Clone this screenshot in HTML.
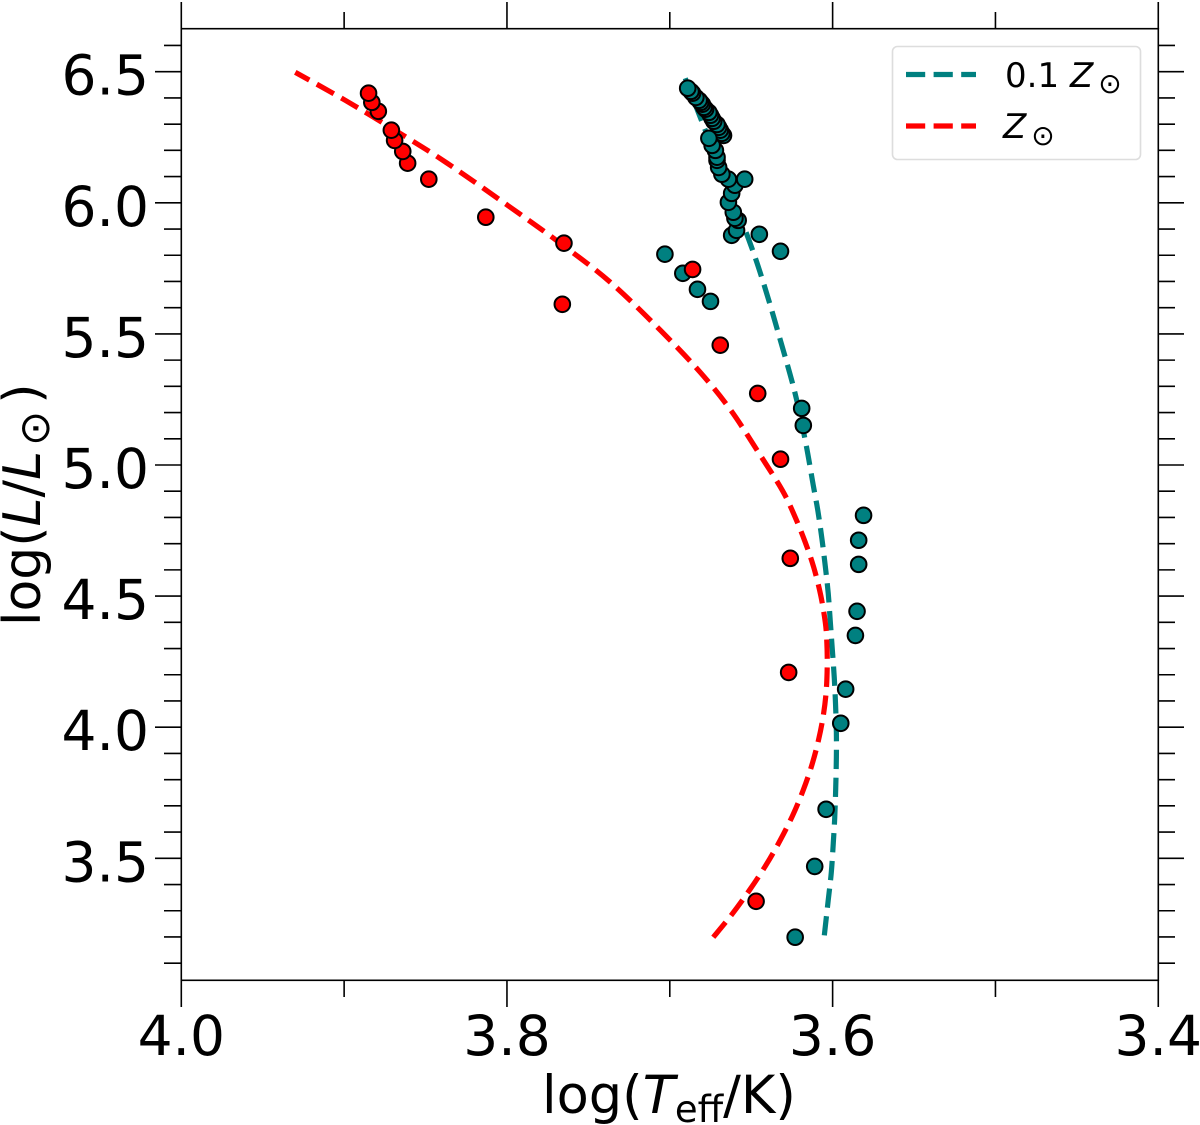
<!DOCTYPE html>
<html lang="en">
<head>
<meta charset="utf-8">
<title>HR diagram</title>
<style>
html,body{margin:0;padding:0;background:#fff;width:1200px;height:1125px;overflow:hidden}
svg{display:block}
text{font-family:"DejaVu Sans","Liberation Sans",sans-serif;fill:#000}
.it{font-style:italic}
</style>
</head>
<body>
<svg id="chart" width="1200" height="1125" viewBox="0 0 1200 1125" xmlns="http://www.w3.org/2000/svg">
  <rect x="0" y="0" width="1200" height="1125" fill="#fff"/>
  <g id="ticks"></g>
  <g id="tick-labels" font-size="55"></g>
  <g id="lines"></g>
  <g id="points"></g>
  <rect x="181.3" y="28.7" width="977" height="951.6" fill="none" stroke="#000" stroke-width="1.6"/>

  <g>
    <rect x="892.5" y="46.5" width="248" height="113" rx="5" fill="#fff" fill-opacity="0.8" stroke="#ddd" stroke-width="1.6"/>
    <g>
      <line x1="906" y1="74.5" x2="976" y2="74.5" stroke="#008080" stroke-width="5.2" stroke-dasharray="19.2 8.4"/>
      <text x="1005" y="87" font-size="34">0.1</text>
      <text class="it" x="1070" y="87" font-size="34">Z</text>
      <text x="1110" y="93" font-size="28" text-anchor="middle">⊙</text>
    </g>
    <g>
      <line x1="906" y1="126" x2="976" y2="126" stroke="#ff0000" stroke-width="5.2" stroke-dasharray="19.2 8.4"/>
      <text class="it" x="1003" y="138" font-size="34">Z</text>
      <text x="1043" y="145" font-size="28" text-anchor="middle">⊙</text>
    </g>
  </g>

  <text x="542" y="1113" font-size="52.6">log(<tspan class="it">T</tspan><tspan font-size="37" dy="9">eff</tspan><tspan dy="-9">/K)</tspan></text>
  <text transform="translate(40,626) rotate(-90)" font-size="52">log(<tspan class="it">L</tspan>/<tspan class="it">L</tspan><tspan font-size="42" dy="9" dx="5">⊙</tspan><tspan dy="-9" dx="7">)</tspan></text>
</svg>

<script>
// Axis ticks
const xMajorTicks = [4.0, 3.8, 3.6, 3.4];
const xMajorLabels = ["4.0", "3.8", "3.6", "3.4"];
const xMinorTicks = [3.9, 3.7, 3.5];
const yMajorTicks = [6.5, 6.0, 5.5, 5.0, 4.5, 4.0, 3.5];
const yMajorLabels = ["6.5", "6.0", "5.5", "5.0", "4.5", "4.0", "3.5"];
const yMinorTicks = [6.6, 6.4, 6.3, 6.2, 6.1, 5.9, 5.8, 5.7, 5.6, 5.4, 5.3, 5.2, 5.1, 4.9, 4.8, 4.7, 4.6, 4.4, 4.3, 4.2, 4.1, 3.9, 3.8, 3.7, 3.6, 3.4, 3.3, 3.2, 3.1];

// Model track: 0.1 solar metallicity
const tealLineTeff = [3.6051, 3.6027, 3.6008, 3.5996, 3.5987, 3.5981, 3.5977, 3.5977, 3.5982, 3.5990, 3.6002, 3.6014, 3.6027, 3.6045, 3.6066, 3.6091, 3.6119, 3.6168, 3.6232, 3.6321, 3.6420, 3.6518, 3.6665, 3.6813, 3.6905];
const tealLineLum = [3.206, 3.340, 3.447, 3.557, 3.656, 3.767, 3.885, 3.981, 4.087, 4.190, 4.297, 4.400, 4.511, 4.614, 4.720, 4.827, 4.923, 5.094, 5.277, 5.476, 5.685, 5.865, 6.093, 6.326, 6.475];

// Model track: solar metallicity
const redLineTeff = [3.6733, 3.6623, 3.6511, 3.6410, 3.6322, 3.6245, 3.6181, 3.6128, 3.6087, 3.6057, 3.6039, 3.6033, 3.6036, 3.6045, 3.6073, 3.6116, 3.6168, 3.6235, 3.6309, 3.6444, 3.6625, 3.6813, 3.7058, 3.7365, 3.7672, 3.7979, 3.8366, 3.8637, 3.8993, 3.9300];
const redLineLum = [3.199, 3.2826, 3.378, 3.4733, 3.5687, 3.664, 3.7593, 3.8547, 3.95, 4.0454, 4.1407, 4.2437, 4.3314, 4.4001, 4.503, 4.6098, 4.7052, 4.8082, 4.9035, 5.037, 5.2086, 5.3535, 5.514, 5.697, 5.8455, 5.9828, 6.1506, 6.2574, 6.3909, 6.4977];

// Scatter: 0.1 solar metallicity
const tealPointTeff = [3.623, 3.611, 3.604, 3.595, 3.592, 3.586, 3.585, 3.584, 3.584, 3.581, 3.618, 3.619, 3.675, 3.683, 3.692, 3.703, 3.632, 3.645, 3.662, 3.659, 3.658, 3.660, 3.661, 3.664, 3.662, 3.660, 3.654, 3.664, 3.668, 3.670, 3.671, 3.671, 3.672, 3.674, 3.667, 3.668, 3.669, 3.670, 3.671, 3.673, 3.674, 3.675, 3.676, 3.678, 3.679, 3.680, 3.681, 3.682, 3.684, 3.686, 3.687, 3.689, 3.676];
const tealPointLum = [3.199, 3.469, 3.687, 4.015, 4.145, 4.350, 4.442, 4.621, 4.713, 4.808, 5.151, 5.216, 5.624, 5.670, 5.731, 5.804, 5.815, 5.880, 5.876, 5.895, 5.933, 5.941, 5.964, 6.002, 6.036, 6.067, 6.090, 6.090, 6.109, 6.135, 6.162, 6.174, 6.200, 6.219, 6.257, 6.265, 6.277, 6.288, 6.299, 6.311, 6.322, 6.334, 6.345, 6.357, 6.364, 6.376, 6.383, 6.391, 6.402, 6.418, 6.425, 6.437, 6.246];

// Scatter: solar metallicity
const redPointTeff = [3.647, 3.627, 3.626, 3.632, 3.646, 3.669, 3.686, 3.766, 3.765, 3.813, 3.848, 3.861, 3.864, 3.869, 3.871, 3.879, 3.883, 3.885];
const redPointLum = [3.336, 4.209, 4.644, 5.022, 5.273, 5.457, 5.746, 5.613, 5.846, 5.945, 6.090, 6.151, 6.196, 6.238, 6.277, 6.349, 6.383, 6.418];

const NS = 'http://www.w3.org/2000/svg';
function xScale(v) { return 181.3 + (4 - v) * 1628.3; }
function yScale(v) { return 858.3 - (v - 3.5) * 262.2; }

const ticksGroup = document.getElementById('ticks');
const labelsGroup = document.getElementById('tick-labels');
const linesGroup = document.getElementById('lines');
const pointsGroup = document.getElementById('points');

function addTick(name, x1, y1, x2, y2) {
  const t = document.createElementNS(NS, 'line');
  
  
  t.setAttribute('x1', x1);
  t.setAttribute('y1', y1);
  t.setAttribute('x2', x2);
  t.setAttribute('y2', y2);
  t.setAttribute('stroke', '#000');
  t.setAttribute('stroke-width', '1.6');
  ticksGroup.appendChild(t);
}

xMajorTicks.forEach(function (v, i) {
  const x = xScale(v);
  addTick('x-major-tick-bottom', x, 980, x, 1007);
  addTick('x-major-tick-top', x, 29, x, 2);
  const label = document.createElementNS(NS, 'text');
  
  
  label.setAttribute('x', x);
  label.setAttribute('y', 1055);
  label.setAttribute('text-anchor', 'middle');
  label.textContent = xMajorLabels[i];
  labelsGroup.appendChild(label);
});
xMinorTicks.forEach(function (v) {
  const x = xScale(v);
  addTick('x-minor-tick-bottom', x, 980, x, 997);
  addTick('x-minor-tick-top', x, 29, x, 12);
});
yMajorTicks.forEach(function (v, i) {
  const y = yScale(v);
  addTick('y-major-tick-left', 181, y, 155, y);
  addTick('y-major-tick-right', 1158, y, 1184, y);
  const label = document.createElementNS(NS, 'text');
  
  
  label.setAttribute('x', 149);
  label.setAttribute('y', y + 23);
  label.setAttribute('text-anchor', 'end');
  label.textContent = yMajorLabels[i];
  labelsGroup.appendChild(label);
});
yMinorTicks.forEach(function (v) {
  const y = yScale(v);
  addTick('y-minor-tick-left', 181, y, 164, y);
  addTick('y-minor-tick-right', 1158, y, 1175, y);
});

function smoothPath(xs, ys) {
  const px = xs.map(xScale);
  const py = ys.map(yScale);
  let d = 'M' + px[0].toFixed(2) + ' ' + py[0].toFixed(2);
  for (let i = 0; i < px.length - 1; i++) {
    const a = Math.max(i - 1, 0);
    const b = Math.min(i + 2, px.length - 1);
    const c1x = px[i] + (px[i + 1] - px[a]) / 6;
    const c1y = py[i] + (py[i + 1] - py[a]) / 6;
    const c2x = px[i + 1] - (px[b] - px[i]) / 6;
    const c2y = py[i + 1] - (py[b] - py[i]) / 6;
    d += 'C' + c1x.toFixed(2) + ' ' + c1y.toFixed(2) + ' ' + c2x.toFixed(2) + ' ' + c2y.toFixed(2) + ' ' + px[i + 1].toFixed(2) + ' ' + py[i + 1].toFixed(2);
  }
  return d;
}

const tealLine = document.createElementNS(NS, 'path');


tealLine.setAttribute('d', smoothPath(tealLineTeff, tealLineLum));
tealLine.setAttribute('fill', 'none');
tealLine.setAttribute('stroke', '#008080');
tealLine.setAttribute('stroke-width', '5.2');
tealLine.setAttribute('stroke-dasharray', '19.3 8.5');
linesGroup.appendChild(tealLine);

const redLine = document.createElementNS(NS, 'path');


redLine.setAttribute('d', smoothPath(redLineTeff, redLineLum));
redLine.setAttribute('fill', 'none');
redLine.setAttribute('stroke', '#ff0000');
redLine.setAttribute('stroke-width', '5.2');
redLine.setAttribute('stroke-dasharray', '19.4 8.55');
linesGroup.appendChild(redLine);

tealPointTeff.forEach(function (v, i) {
  const c = document.createElementNS(NS, 'circle');
  
  
  c.setAttribute('cx', xScale(v));
  c.setAttribute('cy', yScale(tealPointLum[i]));
  c.setAttribute('r', '7.8');
  c.setAttribute('fill', '#008080');
  c.setAttribute('stroke', '#000');
  c.setAttribute('stroke-width', '2');
  pointsGroup.appendChild(c);
});

redPointTeff.forEach(function (v, i) {
  const c = document.createElementNS(NS, 'circle');
  
  
  c.setAttribute('cx', xScale(v));
  c.setAttribute('cy', yScale(redPointLum[i]));
  c.setAttribute('r', '7.8');
  c.setAttribute('fill', '#ff0000');
  c.setAttribute('stroke', '#000');
  c.setAttribute('stroke-width', '2');
  pointsGroup.appendChild(c);
});
</script>
</body>
</html>
